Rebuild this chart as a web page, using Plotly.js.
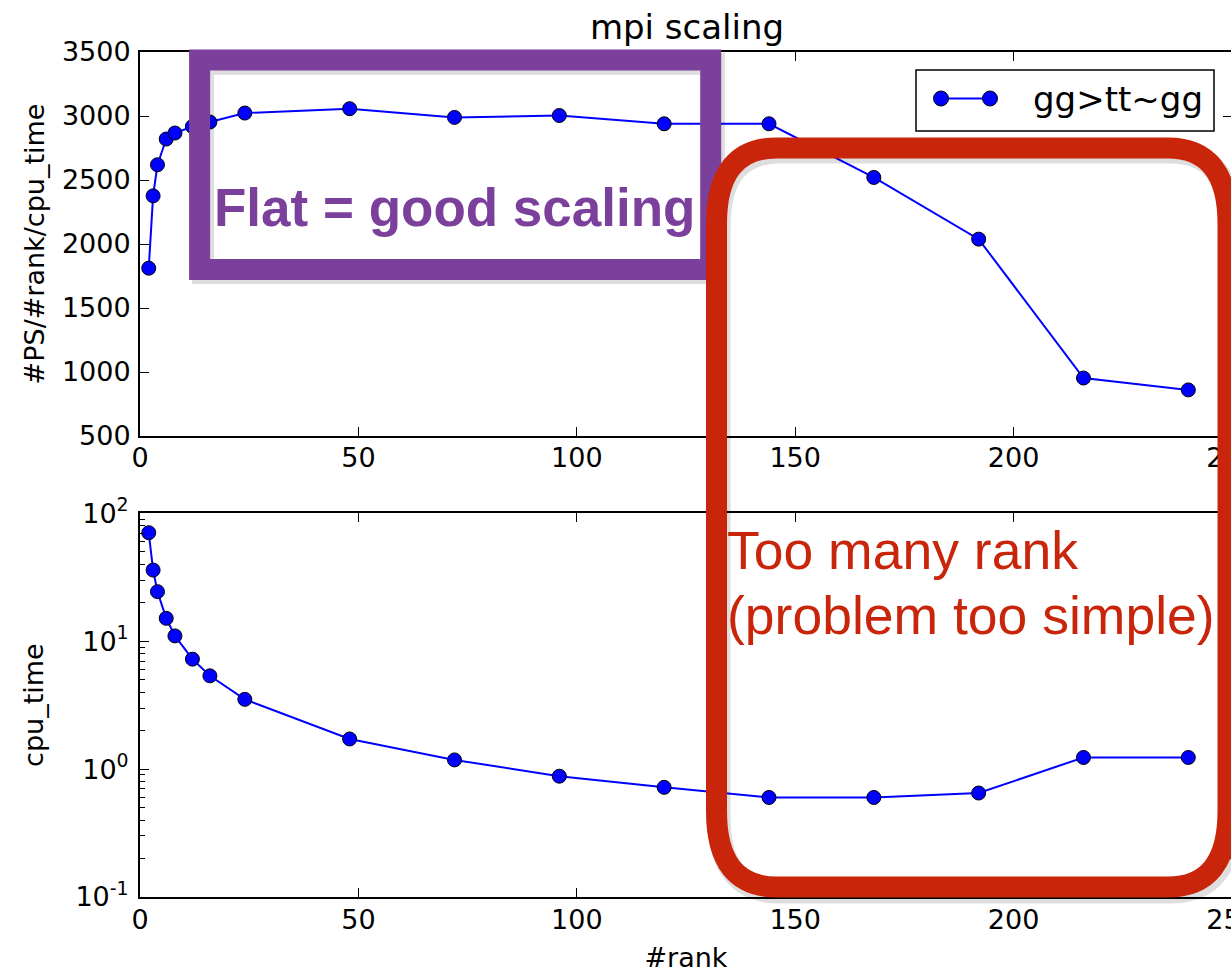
<!DOCTYPE html>
<html><head><meta charset="utf-8">
<script src="https://cdn.plot.ly/plotly-3.0.1.min.js"></script>
<style>html,body{margin:0;padding:0;overflow:hidden;background:#fff;width:1231px;height:974px}#chart{width:1240px;height:974px}</style>
</head><body><div id="chart"></div>
<script>
// ---- data ----
const ranks = [2,3,4,6,8,12,16,24,48,72,96,120,144,168,192,216,240];
const psPerRankPerCpu = [1811,2376,2619,2820,2867,2918,2953,3023,3057,2989,3004,2939,2939,2520,2038,953,860];
const cpuTime = [70.5,36,24.4,15.1,11.0,7.24,5.36,3.51,1.72,1.18,0.88,0.72,0.60,0.60,0.65,1.233,1.233];
const seriesName = 'gg>tt~gg';
const xTicks = [0,50,100,150,200,250];
const yTicksTop = [500,1000,1500,2000,2500,3000,3500];
const yTicksLog = [0.1,1,10,100];
const yTicksLogText = ['10<sup>-1</sup>','10<sup>0</sup>','10<sup>1</sup>','10<sup>2</sup>'];
const yMinorLog = [0.2,0.3,0.4,0.5,0.6,0.7,0.8,0.9,2,3,4,5,6,7,8,9,20,30,40,50,60,70,80,90];

// ---- layout geometry (pixels) ----
const W = 1240, H = 974, ML = 140, MR = 8, MT = 52, MB = 77;
const PW = W - ML - MR, PH = H - MT - MB;
const px = x => (x - ML) / PW;
const py = y => (H - MB - y) / PH;

const BLUE = '#0000ff';
const PURPLE = '#7b3f9c';
const RED = '#c8250b';
const FONT = 'DejaVu Sans, sans-serif';
const SANS = 'Liberation Sans, Arial, sans-serif';

const lineStyle = {color: BLUE, width: 2};
const markerStyle = {size: 14, color: BLUE, line: {color: '#000', width: 1}};

const traces = [
  {x: ranks, y: psPerRankPerCpu, xaxis: 'x', yaxis: 'y', mode: 'lines+markers',
   name: seriesName, line: lineStyle, marker: markerStyle, showlegend: false, cliponaxis: false},
  {x: ranks, y: cpuTime, xaxis: 'x2', yaxis: 'y2', mode: 'lines+markers',
   name: seriesName, line: lineStyle, marker: markerStyle, showlegend: false, cliponaxis: false}
];

const axisBase = {
  showline: true, linewidth: 2, linecolor: '#000', mirror: 'ticks',
  ticks: 'inside', ticklen: 9, tickwidth: 1, tickcolor: '#000',
  showgrid: false, zeroline: false, ticklabeloverflow: 'allow',
  tickfont: {family: FONT, size: 27, color: '#000'}
};

const topDomainBottom = (H - MB - 436) / PH;
const botDomainTop = (H - MB - 513.3) / PH;

function roundedRectPath(x0, y0, x1, y1, rx, ry) {
  const X = v => px(v).toFixed(5), Y = v => py(v).toFixed(5);
  return 'M' + X(x0 + rx) + ',' + Y(y0) +
    ' L' + X(x1 - rx) + ',' + Y(y0) +
    ' Q' + X(x1) + ',' + Y(y0) + ' ' + X(x1) + ',' + Y(y0 + ry) +
    ' L' + X(x1) + ',' + Y(y1 - ry) +
    ' Q' + X(x1) + ',' + Y(y1) + ' ' + X(x1 - rx) + ',' + Y(y1) +
    ' L' + X(x0 + rx) + ',' + Y(y1) +
    ' Q' + X(x0) + ',' + Y(y1) + ' ' + X(x0) + ',' + Y(y1 - ry) +
    ' L' + X(x0) + ',' + Y(y0 + ry) +
    ' Q' + X(x0) + ',' + Y(y0) + ' ' + X(x0 + rx) + ',' + Y(y0) + ' Z';
}

const shapes = [
  // legend box
  {type: 'rect', xref: 'paper', yref: 'paper', x0: px(916), x1: px(1214), y0: py(70), y1: py(131),
   line: {color: '#000', width: 1.5}, fillcolor: '#fff', layer: 'above'},
  {type: 'line', xref: 'paper', yref: 'paper', x0: px(941), x1: px(990), y0: py(98.5), y1: py(98.5),
   line: {color: BLUE, width: 2}, layer: 'above'},
  {type: 'circle', xref: 'paper', yref: 'paper', x0: px(933.5), x1: px(948.5), y0: py(91), y1: py(106),
   line: {color: '#000', width: 1}, fillcolor: BLUE, layer: 'above'},
  {type: 'circle', xref: 'paper', yref: 'paper', x0: px(982.5), x1: px(997.5), y0: py(91), y1: py(106),
   line: {color: '#000', width: 1}, fillcolor: BLUE, layer: 'above'},
  // purple box shadow + box
  {type: 'rect', xref: 'paper', yref: 'paper', x0: px(203), x1: px(714), y0: py(64), y1: py(273),
   line: {color: 'rgba(0,0,0,0.13)', width: 22}, layer: 'above'},
  {type: 'rect', xref: 'paper', yref: 'paper', x0: px(199.6), x1: px(710.7), y0: py(60), y1: py(269.5),
   line: {color: PURPLE, width: 21}, layer: 'above'},
  // red rounded box shadow + box
  {type: 'path', xref: 'paper', yref: 'paper', path: roundedRectPath(719, 152, 1231, 892, 60, 76),
   line: {color: 'rgba(0,0,0,0.13)', width: 23}, layer: 'above'},
  {type: 'path', xref: 'paper', yref: 'paper', path: roundedRectPath(716.5, 148, 1228, 887, 60, 76),
   line: {color: RED, width: 21}, layer: 'above'}
];

const annotations = [
  {xref: 'paper', yref: 'paper', x: px(1031), y: py(99), xanchor: 'left', yanchor: 'middle',
   text: seriesName, showarrow: false, font: {family: FONT, size: 34, color: '#000'}},
  {xref: 'paper', yref: 'paper', x: px(454), y: py(207), xanchor: 'center', yanchor: 'middle',
   text: '<b>Flat = good scaling</b>', showarrow: false, font: {family: SANS, size: 53, color: PURPLE}},
  {xref: 'paper', yref: 'paper', x: px(725), y: py(550), xanchor: 'left', yanchor: 'middle',
   text: 'Too many rank', showarrow: false, font: {family: SANS, size: 53.5, color: RED}},
  {xref: 'paper', yref: 'paper', x: px(725), y: py(615), xanchor: 'left', yanchor: 'middle',
   text: '(problem too simple)', showarrow: false, font: {family: SANS, size: 53.5, color: RED}}
];

const layout = {
  width: W, height: H,
  margin: {l: ML, r: MR, t: MT, b: MB, pad: 0},
  paper_bgcolor: '#fff', plot_bgcolor: '#fff',
  showlegend: false,
  title: {text: 'mpi scaling', font: {family: FONT, size: 34, color: '#000'},
          x: px(687), xanchor: 'center', xref: 'paper', y: 1 - 27 / H, yanchor: 'middle', yref: 'container'},
  xaxis: Object.assign({}, axisBase, {domain: [0, 1], anchor: 'y', range: [0, 250], tickvals: xTicks,
          ticklabelstandoff: -3}),
  yaxis: Object.assign({}, axisBase, {domain: [topDomainBottom, 1], anchor: 'x', range: [500, 3500],
          tickvals: yTicksTop, ticklabelstandoff: 2,
          title: {text: '#PS/#rank/cpu_time', font: {family: FONT, size: 27, color: '#000'}, standoff: 9}}),
  xaxis2: Object.assign({}, axisBase, {domain: [0, 1], anchor: 'y2', range: [0, 250], tickvals: xTicks,
          ticklabelstandoff: -2,
          title: {text: '#rank', font: {family: FONT, size: 27, color: '#000'}, standoff: 14}}),
  yaxis2: Object.assign({}, axisBase, {domain: [0, botDomainTop], anchor: 'x2', type: 'log', range: [-1, 2],
          tickvals: yTicksLog, ticktext: yTicksLogText, ticklabelstandoff: 4,
          minor: {ticks: 'inside', ticklen: 5, tickwidth: 1, tickcolor: '#000', tickvals: yMinorLog, showgrid: false},
          title: {text: 'cpu_time', font: {family: FONT, size: 27, color: '#000'}, standoff: 24}}),
  shapes: shapes,
  annotations: annotations
};

Plotly.newPlot('chart', traces, layout, {staticPlot: true, displayModeBar: false});
</script>
</body></html>
